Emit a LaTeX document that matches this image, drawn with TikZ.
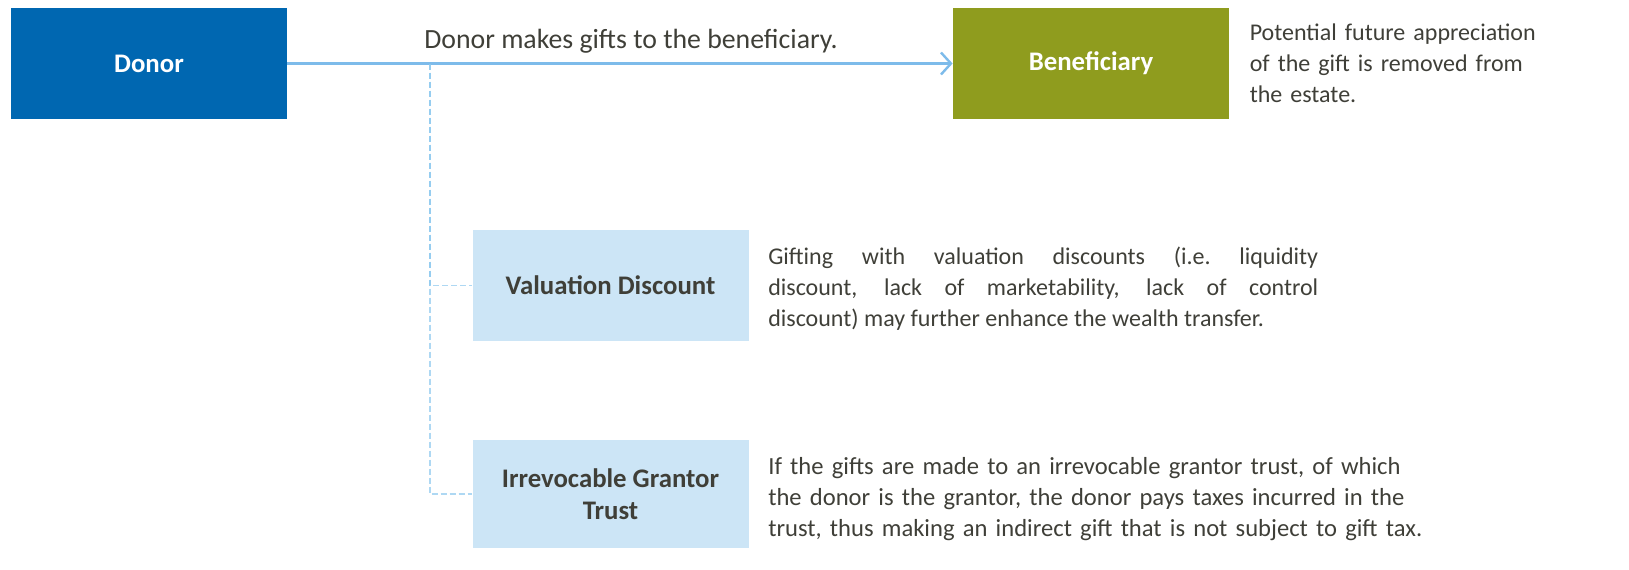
\documentclass[tikz,border=0pt]{standalone}
\usepackage{fontspec}
\setmainfont{Carlito}
\usetikzlibrary{positioning,arrows.meta}
\definecolor{donorblue}{HTML}{0067B1}
\definecolor{benolive}{HTML}{8F9C1E}
\definecolor{paleblue}{HTML}{CCE5F6}
\definecolor{lineblue}{HTML}{7DBBEA}
\definecolor{dashblue}{HTML}{8CC8EE}
\definecolor{txtgray}{HTML}{3F3F38}
\begin{document}
\begin{tikzpicture}[x=0.5pt, y=-0.5pt, text=txtgray, font=\fontsize{12}{15.5}\selectfont,
		box/.style={minimum width=138pt, minimum height=55.5pt, inner sep=2pt, align=center, font=\fontsize{13.4}{16}\selectfont\bfseries},
		main/.style={box, fill=donorblue, text=white},
		ben/.style={box, fill=benolive, text=white},
		sub/.style={box, fill=paleblue},
		note/.style={inner sep=0pt},
		gift/.style={draw=lineblue, line width=1.2pt, -{Straight Barb[length=5pt, width=11pt, line width=1.2pt]}},
		branch/.style={draw=dashblue, line width=0.6pt, dash pattern=on 3pt off 1.5pt, opacity=0.7}]
	
	\useasboundingbox (0,0) rectangle (1629,569);
	
	\node[main] (donor) at (149,63.5) {Donor};
	\node[ben] (ben) at (1091,63.5) {Beneficiary};
	\node[sub] (val) at (610.5,285.5) {Valuation Discount};
	\node[sub, minimum height=54pt] (irr) at (610.5,494) {Irrevocable Grantor\\Trust};
	
	\draw[gift] (donor) -- (ben);
	\coordinate (split) at (430,63.5);
	\draw[branch] (split) |- (val);
	\draw[branch] (split) |- (irr);
	
	\node[note, font=\fontsize{13.9}{16}\selectfont] (giftnote) at (631,41) {Donor makes gifts to the beneficiary.};
	\node[note, text width=150pt, align=left, right=10pt of ben] (bennote) {Potential future appreciation\\of the gift is removed from\\the estate.};
	\node[note, text width=275pt, align=justify, right=9.5pt of val, yshift=-1.5pt] (valnote) {Gifting with valuation discounts (i.e.\ liquidity\linebreak discount, lack of marketability, lack of control\linebreak discount) may further enhance the wealth transfer.};
	\node[note, text width=330pt, align=left, font=\fontsize{12.3}{15.5}\selectfont, right=9.5pt of irr, yshift=-2.5pt] (irrnote) {If the gifts are made to an irrevocable grantor trust, of which\\the donor is the grantor, the donor pays taxes incurred in the\\trust, thus making an indirect gift that is not subject to gift tax.};
\end{tikzpicture}
\end{document}
